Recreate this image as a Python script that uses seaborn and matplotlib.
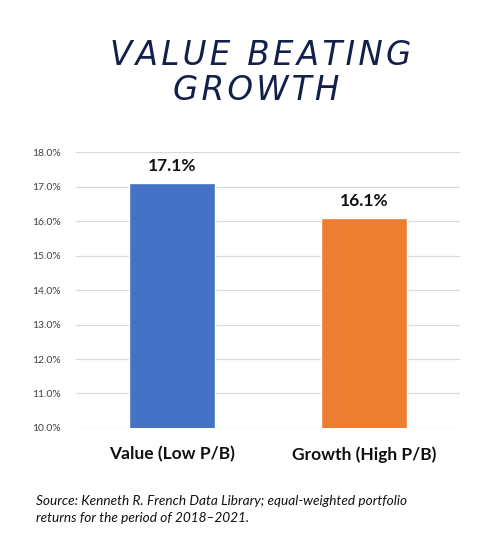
import matplotlib
matplotlib.use('Agg')
import matplotlib.pyplot as plt
import seaborn as sns
import pandas as pd

# data
categories = ['Value (Low P/B)', 'Growth (High P/B)']
returns = [17.1, 16.1]
bar_colors = ['#4472C4', '#ED7D31']
yticks = [10, 11, 12, 13, 14, 15, 16, 17, 18]
title_lines = ['VALUE BEATING', 'GROWTH']

df = pd.DataFrame({'category': categories, 'ret': returns})

sns.set_style('white')
plt.rcParams['font.family'] = ['Lato', 'DejaVu Sans']

fig = plt.figure(figsize=(5, 5.57), dpi=100)
ax = fig.add_axes([0.152, 0.2316, 0.768, 0.4955])

sns.barplot(data=df, x='category', y='ret', hue='category', palette=bar_colors,
            width=0.45, legend=False, ax=ax, saturation=1)

ax.set_ylim(10, 18)
ax.set_xlim(-0.5, 1.5)
ax.set_yticks(yticks)
ax.set_yticklabels([f'{t:.1f}%' for t in yticks], fontsize=7.5, color='#404040')
ax.yaxis.grid(True, color='#d9d9d9', linewidth=0.9)
ax.set_axisbelow(True)
ax.tick_params(axis='y', length=0, pad=11)
ax.tick_params(axis='x', length=0, pad=13)
ax.set_xticks(range(len(categories)))
ax.set_xticklabels(categories, fontsize=12.5, fontweight='bold', color='#111111')
ax.set_xlabel('')
ax.set_ylabel('')
for s in ax.spines.values():
    s.set_visible(False)

for i, v in enumerate(returns):
    ax.text(i, v + 0.25, f'{v:.1f}%', ha='center', va='bottom',
            fontsize=12.5, fontweight='bold', color='#111111')

# handwritten-style title, letters spaced out a little
def spaced(s):
    return '\u200a'.join(s)

fig.text(0.522, 0.9, spaced(title_lines[0]), ha='center', va='center', fontsize=23.5,
         style='italic', color='#14204a', family=['DejaVu Sans'], fontweight='light')
fig.text(0.512, 0.837, spaced(title_lines[1]), ha='center', va='center', fontsize=23.5,
         style='italic', color='#14204a', family=['DejaVu Sans'], fontweight='light')

fig.text(0.072, 0.093, 'Source: Kenneth R. French Data Library; equal-weighted portfolio',
         fontsize=9.8, style='italic', color='#111111')
fig.text(0.072, 0.062, 'returns for the period of 2018\u20132021.',
         fontsize=9.8, style='italic', color='#111111')

fig.savefig('out.png', dpi=100, facecolor='white')
